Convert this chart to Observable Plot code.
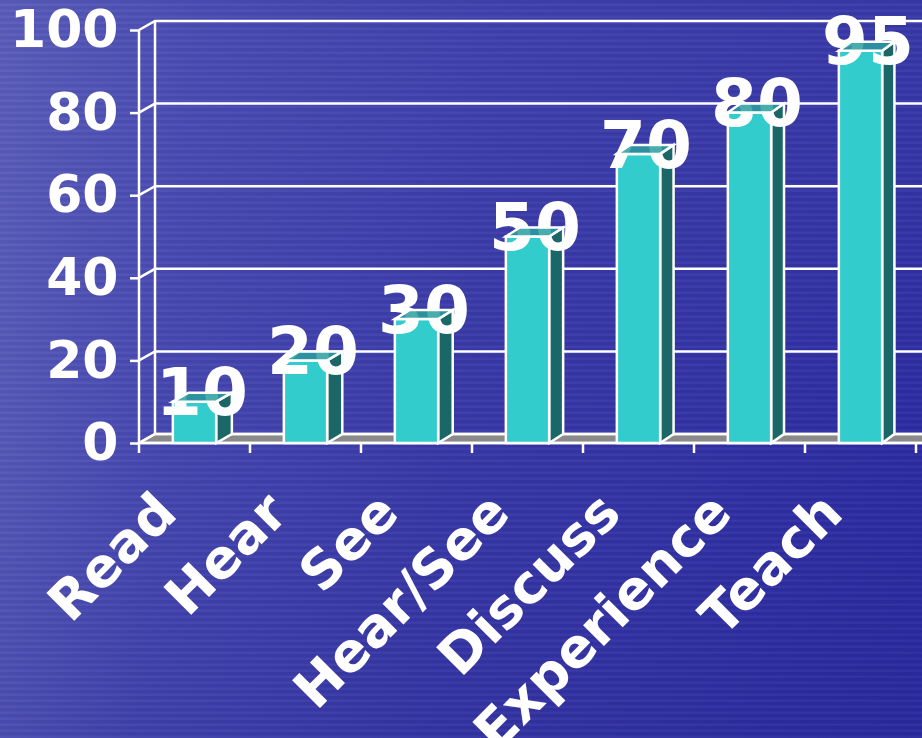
<!DOCTYPE html>
<html>
<head>
<meta charset="utf-8">
<script src="https://cdn.jsdelivr.net/npm/d3@7"></script>
<script src="https://cdn.jsdelivr.net/npm/@observablehq/plot@0.6"></script>
<style>
  html, body { margin: 0; padding: 0; }
  body {
    width: 922px; height: 738px; overflow: hidden;
    background:
      repeating-linear-gradient(0deg, rgba(255,255,255,0.035) 0px, rgba(255,255,255,0.035) 2px, rgba(0,0,0,0.035) 3px, rgba(0,0,0,0.035) 6px),
      linear-gradient(180deg, rgba(90,92,190,0.25) 0%, rgba(40,38,150,0.0) 60%, rgba(30,28,140,0.15) 100%),
      linear-gradient(95deg, #5a5cba 0%, #4547b0 20%, #3838a8 50%, #2c2ba2 100%);
    font-family: "DejaVu Sans", Verdana, sans-serif;
  }
  #chart svg { display: block; overflow: hidden; }
</style>
</head>
<body>
<div id="chart"></div>
<script>
const categories = ["Read", "Hear", "See", "Hear/See", "Discuss", "Experience", "Teach"];
const values = [10, 20, 30, 50, 70, 80, 95];
const yTicks = [0, 20, 40, 60, 80, 100];

const data = categories.map((c, i) => ({category: c, value: values[i]}));

const FRONT = "#33cccc", SIDE = "#1b6767", TOP = "#2a9f9f", FLOOR = "#8a8a8a", LINE = "white";
const DEPTH_Y = -9;
const faceFrac = 0.39;
function depthX(px, left, right) { return 16 - 4 * (px - left) / (right - left); }

function bw(x) { return typeof x.bandwidth === "function" ? x.bandwidth() : x.bandwidth; }

// walls, floor, axes lines, front and side faces of bars
function structure(index, scales, vals, dims) {
  const {x, y} = scales;
  const b = bw(x);
  const L = dims.marginLeft, R = dims.width - dims.marginRight, W = dims.width;
  const y0 = y(0);
  const g = d3.create("svg:g").attr("fill", "none").attr("stroke", LINE).attr("stroke-width", 2.5);
  const dL = depthX(L, L, R);
  // floor
  g.append("path").attr("fill", FLOOR)
    .attr("d", `M${L},${y0}L${W + 20},${y0}L${W + 20},${y0 + DEPTH_Y}L${L + dL},${y0 + DEPTH_Y}Z`);
  // gridlines on back wall + left wall
  for (const t of yTicks) {
    const yy = y(t);
    g.append("path").attr("d", `M${L},${yy}L${L + dL},${yy + DEPTH_Y}L${W + 20},${yy + DEPTH_Y}`);
  }
  // back left vertical
  g.append("path").attr("d", `M${L + dL},${y(100) + DEPTH_Y}L${L + dL},${y0 + DEPTH_Y}`);
  // front y axis line
  g.append("path").attr("d", `M${L},${y(100)}L${L},${y0}`);
  // front x axis line + ticks
  g.append("path").attr("d", `M${L},${y0}L${W + 20},${y0}`);
  for (let i = 0; i <= categories.length; i++) {
    const xx = i < categories.length ? x(categories[i]) : x(categories[categories.length - 1]) + b;
    g.append("path").attr("d", `M${xx},${y0}L${xx},${y0 + 10}`);
  }
  // bars front & side
  for (const d of data) {
    const xc = x(d.category) + b / 2;
    const fw = b * faceFrac;
    const x0 = xc - fw / 2, x1 = xc + fw / 2;
    const dx = depthX(xc, L, R);
    const yv = y(d.value);
    g.append("path").attr("fill", SIDE)
      .attr("d", `M${x1},${yv}L${x1 + dx},${yv + DEPTH_Y}L${x1 + dx},${y0 + DEPTH_Y}L${x1},${y0}Z`);
    g.append("path").attr("fill", FRONT)
      .attr("d", `M${x0},${yv}L${x1},${yv}L${x1},${y0}L${x0},${y0}Z`);
  }
  return g.node();
}

// top faces (drawn over the value labels, like the reference)
function tops(index, scales, vals, dims) {
  const {x, y} = scales;
  const b = bw(x);
  const L = dims.marginLeft, R = dims.width - dims.marginRight;
  const g = d3.create("svg:g").attr("stroke", LINE).attr("stroke-width", 2.5);
  for (const d of data) {
    const xc = x(d.category) + b / 2;
    const fw = b * faceFrac;
    const x0 = xc - fw / 2, x1 = xc + fw / 2;
    const dx = depthX(xc, L, R);
    const yv = y(d.value);
    g.append("path").attr("fill", TOP).attr("fill-opacity", 0.85)
      .attr("d", `M${x0},${yv}L${x0 + dx},${yv + DEPTH_Y}L${x1 + dx},${yv + DEPTH_Y}L${x1},${yv}Z`);
  }
  return g.node();
}

const chart = Plot.plot({
  width: 922,
  height: 738,
  marginLeft: 139,
  marginRight: 6,
  marginTop: 30,
  marginBottom: 295,
  style: {background: "transparent", color: "white", fontFamily: "'DejaVu Sans', Verdana, sans-serif", overflow: "hidden"},
  x: {type: "band", domain: categories, padding: 0, axis: null},
  y: {domain: [0, 100], axis: null},
  marks: [
    structure,
    Plot.axisY({ticks: yTicks, tickSize: 9, tickPadding: 12, fontSize: 52, fontWeight: "bold", stroke: "white", strokeWidth: 2.5, fill: "white", label: null}),
    Plot.text(data, {x: "category", y: "value", text: d => String(d.value), dx: 7, dy: -8,
      fontSize: 66, fontWeight: "bold", fill: "white", lineAnchor: "middle", textAnchor: "middle"}),
    tops,
    Plot.text(categories, {x: d => d, frameAnchor: "bottom", rotate: -45, textAnchor: "end", lineAnchor: "middle",
      dx: -28, dy: 60, fontSize: 54, fontWeight: "bold", fill: "white"})
  ]
});
document.getElementById("chart").appendChild(chart);
</script>
</body>
</html>
